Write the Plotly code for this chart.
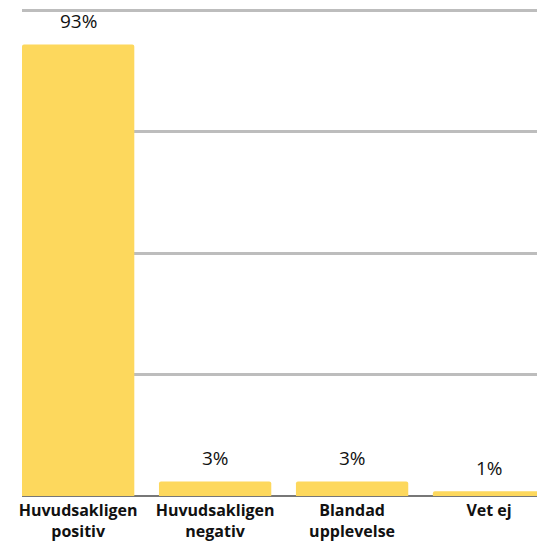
import plotly.graph_objects as go

categories = ["Huvudsakligen<br>positiv", "Huvudsakligen<br>negativ", "Blandad<br>upplevelse", "Vet ej"]
values = [93, 3, 3, 1]
labels = ["93%", "3%", "3%", "1%"]

x_pos = list(range(len(categories)))

fig = go.Figure(go.Bar(
    x=x_pos,
    y=values,
    marker=dict(color="#FDD85D", line=dict(width=0)),
    cliponaxis=False,
    hoverinfo="skip",
))

for xi, v, t in zip(x_pos, values, labels):
    fig.add_annotation(
        x=xi, y=v, text=t, showarrow=False,
        yanchor="bottom", yshift=8,
        font=dict(size=19, color="#111111", family="Open Sans"),
    )

fig.update_layout(
    width=537, height=544,
    margin=dict(l=22, r=0, t=9, b=48),
    paper_bgcolor="white", plot_bgcolor="white",
    bargap=0.18,
    barcornerradius=2,
    showlegend=False,
    font=dict(family="Open Sans", color="#111111"),
)
fig.update_xaxes(
    tickmode="array",
    tickvals=x_pos,
    ticktext=categories,
    range=[-0.41, 3.35],
    showgrid=False,
    showline=False,
    ticks="",
    tickfont=dict(size=16, family="Open Sans", weight="bold", color="#111111"),
    ticklabelstandoff=3,
)
fig.update_yaxes(
    range=[0, 100.3],
    tickvals=[0, 25, 50, 75, 100],
    showticklabels=False,
    showgrid=True,
    gridcolor="#BDBDBD",
    gridwidth=3,
    zeroline=True,
    zerolinecolor="#777777",
    zerolinewidth=2,
    showline=False,
)

fig.write_html(
    "out.html",
    config={"displayModeBar": False},
    post_script="document.body.style.margin='0';document.body.style.overflow='hidden';",
)
